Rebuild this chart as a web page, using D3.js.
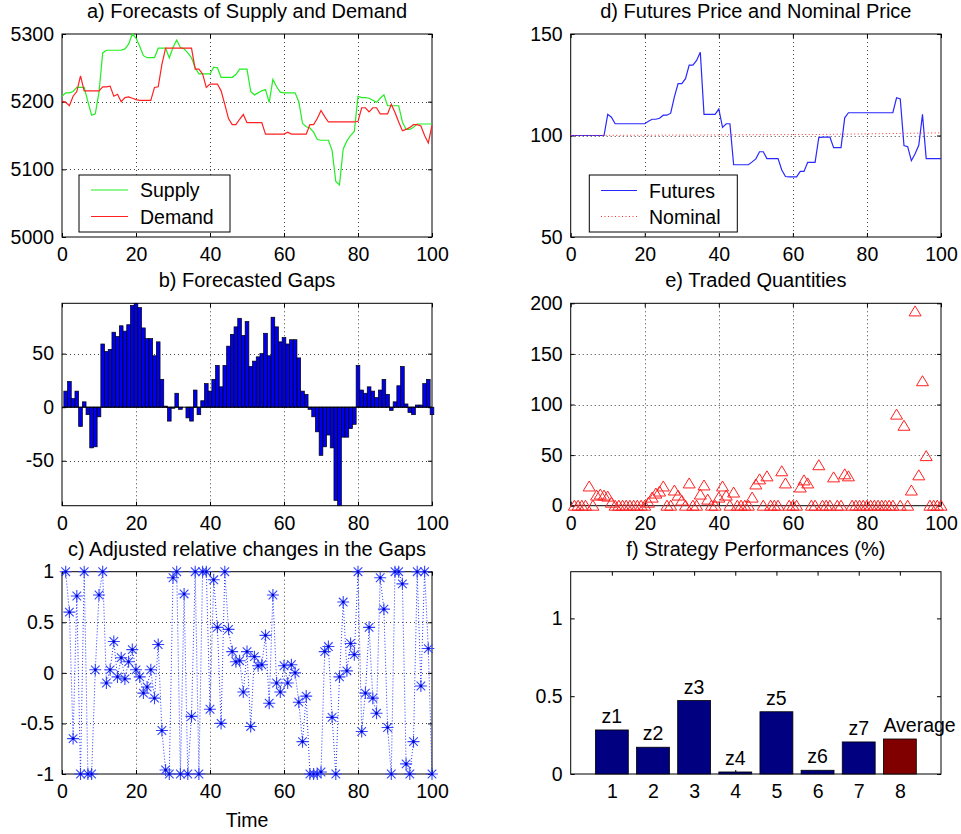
<!DOCTYPE html>
<html>
<head>
<meta charset="utf-8">
<script src="https://cdn.jsdelivr.net/npm/d3@7"></script>
<style>
  body { margin: 0; background: #fff; }
  text { font-family: "Liberation Sans", Arial, Helvetica, sans-serif; }
</style>
</head>
<body>
<svg id="fig" width="961" height="834"></svg>
<script>
// ---- data ----
var supply = [5208,5213,5213,5215,5221,5221,5221,5200,5180,5182,
  5214,5272,5276,5276,5276,5276,5276,5278,5285,5300,
  5294,5282,5268,5265,5265,5265,5279,5279,5279,5265,
  5280,5291,5280,5278,5272,5265,5250,5241,5241,5241,
  5241,5251,5250,5236,5236,5236,5236,5240,5248,5248,
  5248,5215,5210,5213,5216,5218,5199,5233,5222,5214,
  5213,5213,5213,5213,5200,5168,5163,5161,5155,5144,
  5143,5143,5143,5128,5082,5077,5130,5142,5150,5156,
  5208,5206,5206,5205,5202,5199,5205,5210,5194,5194,
  5194,5194,5170,5159,5159,5162,5167,5167,5167,5167,
  5167];
var demand = [5201,5199,5194,5208,5215,5238,5216,5216,5216,5216,
  5216,5222,5222,5223,5208,5211,5200,5206,5207,5205,
  5203,5202,5202,5202,5202,5221,5222,5255,5279,5279,
  5279,5279,5279,5279,5279,5279,5248,5248,5241,5221,
  5226,5226,5226,5216,5196,5175,5166,5166,5174,5181,
  5169,5169,5169,5169,5169,5152,5152,5152,5152,5152,
  5152,5155,5152,5152,5152,5152,5152,5166,5166,5175,
  5187,5178,5170,5170,5170,5170,5170,5170,5170,5170,
  5171,5191,5191,5185,5191,5191,5182,5182,5182,5196,
  5184,5170,5157,5159,5162,5166,5166,5164,5150,5139,
  5165];
var gaps = [15,24,8,15,-18,5,-7,-38,-37,-9,
  59,52,54,70,66,76,71,77,95,97,
  93,74,64,64,48,61,26,1,-13,-1,
  13,-2,0,-10,-13,16,-7,6,22,15,
  26,39,19,39,57,68,75,83,67,80,
  38,43,47,50,69,48,84,75,61,65,
  59,63,63,46,15,12,-2,-9,-23,-45,
  -37,-26,-38,-87,-92,-28,-28,-20,-16,39,
  16,13,19,15,9,16,26,12,-3,5,
  20,38,3,-5,-7,2,2,22,26,-7];
var changes = [1,0.60,-0.65,0.76,-1,1,-1,-1,0.03,0.77,
  1,-0.1,0.03,0.31,-0.04,0.15,-0.06,0.11,0.23,0.03,
  -0.04,-0.2,-0.14,0.03,-0.25,0.28,-0.57,-0.96,-1,0.94,
  1,-1,0.78,-1,-0.43,1,-1,1,1,-0.36,
  0.92,0.45,-0.5,1,0.43,0.21,0.11,0.12,-0.19,0.21,
  -0.53,0.16,0.07,0.08,0.37,-0.3,0.77,-0.1,-0.19,0.07,
  -0.1,0.08,0,-0.29,-0.68,-0.23,-1,-1,-1,-0.98,
  0.21,0.26,-0.44,-1,-0.04,0.70,0.02,0.29,0.18,1,
  -0.58,-0.2,0.45,-0.25,-0.4,0.94,0.63,-0.54,-1,1,
  1,0.88,-0.9,-1,-0.68,1,-0.13,1,0.24,-1];
var futures = [100,100,100,100,100,100,100,100,100,100,
  110.4,109,105.8,105.8,105.8,105.8,105.8,105.8,105.8,105.8,
  105.8,107,108,108,108.5,110,110,111,119,125.6,
  125.6,128,134.7,134.7,137,141,110.4,110.4,110.4,110.4,
  113,104,105.8,105.8,85.6,85.6,85.6,85.6,85.6,87,
  88.5,92,92,88.6,88.6,88.6,88.6,83,79.8,79.6,
  79.6,79.6,82.3,82.3,86.8,86.8,86.8,99,99.2,99.2,
  99.2,94,94,94,108.7,111.2,111.2,111.2,111.2,111.2,
  111.2,111.2,111.2,111.2,111.2,111.2,111.2,111.2,118.6,118,
  95,94.5,87.6,91,95.2,110.4,88.6,88.6,88.6,88.6,
  88.6];
var nominalT = [0, 67, 100];
var nominalV = [100, 100.5, 101.3];
var traded = [0,0,0,0,19,0,10,11,10,9,
  3,0,0,0,0,0,0,0,0,0,
  3,8,12,14,19,0,0,15,10,5,
  0,22,0,0,11,20,6,0,0,8,
  19,10,0,13,0,0,0,0,8,21,
  26,0,29,0,0,0,34,22,0,0,
  0,18,25,22,0,0,40,0,0,0,
  28,0,0,31,29,0,0,0,0,0,
  0,0,0,0,0,0,0,90,0,79,
  0,15,192,30,123,49,0,0,0,0];
var strategies = ["z1","z2","z3","z4","z5","z6","z7","Average"];
var performance = [0.283,0.172,0.472,0.013,0.40,0.024,0.206,0.225];

var timeTicks = [0,20,40,60,80,100];

var svg = d3.select("#fig");
var FS = 19.5;

function panel(o) {
  var g = svg.append("g");
  var x = d3.scaleLinear().domain(o.xd).range([o.x0, o.x1]);
  var y = d3.scaleLinear().domain(o.yd).range([o.y1, o.y0]);

  if (o.grid) {
    g.selectAll(".gx").data(o.xt.filter(function(d){ return d > o.xd[0] && d < o.xd[1]; }))
      .enter().append("line")
      .attr("x1", function(d){ return Math.round(x(d)) + 0.5; })
      .attr("x2", function(d){ return Math.round(x(d)) + 0.5; })
      .attr("y1", o.y0).attr("y2", o.y1)
      .attr("stroke", "#444").attr("stroke-dasharray", "1,3");
    g.selectAll(".gy").data(o.yt.filter(function(d){ return d > o.yd[0] && d < o.yd[1]; }))
      .enter().append("line")
      .attr("y1", function(d){ return Math.round(y(d)) + 0.5; })
      .attr("y2", function(d){ return Math.round(y(d)) + 0.5; })
      .attr("x1", o.x0).attr("x2", o.x1)
      .attr("stroke", "#444").attr("stroke-dasharray", "1,3");
  }

  var fmt = function(d){ return String(d); };
  var axB = g.append("g").attr("transform", "translate(0," + o.y1 + ")")
    .call(d3.axisBottom(x).tickValues(o.xt).tickSizeInner(-4).tickSizeOuter(0).tickPadding(10).tickFormat(fmt));
  var axL = g.append("g").attr("transform", "translate(" + o.x0 + ",0)")
    .call(d3.axisLeft(y).tickValues(o.yt).tickSizeInner(-4).tickSizeOuter(0).tickPadding(8).tickFormat(fmt));
  var axT = g.append("g").attr("transform", "translate(0," + o.y0 + ")")
    .call(d3.axisTop(x).tickValues(o.xt).tickSizeInner(-4).tickSizeOuter(0).tickFormat(""));
  var axR = g.append("g").attr("transform", "translate(" + o.x1 + ",0)")
    .call(d3.axisRight(y).tickValues(o.yt).tickSizeInner(-4).tickSizeOuter(0).tickFormat(""));
  [axB, axL, axT, axR].forEach(function(a){
    a.select(".domain").remove();
    a.attr("font-size", FS).attr("font-family", null);
    a.selectAll("text").attr("fill", "#000");
    a.selectAll("line").attr("stroke", "#000");
  });

  g.append("rect").attr("x", o.x0).attr("y", o.y0)
    .attr("width", o.x1 - o.x0).attr("height", o.y1 - o.y0)
    .attr("fill", "none").attr("stroke", "#000").attr("stroke-width", 1);

  g.append("text").attr("x", (o.x0 + o.x1) / 2).attr("y", o.y0 - 16)
    .attr("text-anchor", "middle").attr("font-size", FS + 0.5).text(o.title);

  return { g: g, x: x, y: y };
}

var L = [62, 432], R = [570.7, 941];
var rows = [[34, 237], [303.3, 505.7], [571.7, 774]];

// a) forecasts
var pa = panel({ x0: L[0], x1: L[1], y0: rows[0][0], y1: rows[0][1],
  xd: [0, 100], yd: [5000, 5300], xt: timeTicks, yt: [5000, 5100, 5200, 5300],
  grid: true, title: "a) Forecasts of Supply and Demand" });
var lineA = d3.line().x(function(d, i){ return pa.x(i); }).y(function(d){ return pa.y(d); });
pa.g.append("path").datum(supply).attr("d", lineA).attr("fill", "none").attr("stroke", "#22ee22").attr("stroke-width", 1.2);
pa.g.append("path").datum(demand).attr("d", lineA).attr("fill", "none").attr("stroke", "#ff2020").attr("stroke-width", 1.2);
var legA = pa.g.append("g");
legA.append("rect").attr("x", 79).attr("y", 175).attr("width", 151).attr("height", 57)
  .attr("fill", "#fff").attr("stroke", "#000");
[["Supply", "#22ee22", 190], ["Demand", "#ff2020", 216.5]].forEach(function(e){
  legA.append("line").attr("x1", 91).attr("x2", 128).attr("y1", e[2]).attr("y2", e[2])
    .attr("stroke", e[1]).attr("stroke-width", 1.2);
  legA.append("text").attr("x", 140).attr("y", e[2] + 7).attr("font-size", FS).text(e[0]);
});

// b) gaps
var pb = panel({ x0: L[0], x1: L[1], y0: rows[1][0], y1: rows[1][1],
  xd: [0, 100], yd: [-92, 97], xt: timeTicks, yt: [-50, 0, 50],
  grid: true, title: "b) Forecasted Gaps" });
pb.g.selectAll(".bar").data(gaps).enter().append("rect")
  .attr("x", function(d, i){ return pb.x(i + 0.5); })
  .attr("width", pb.x(1) - pb.x(0))
  .attr("y", function(d){ return pb.y(Math.max(d, 0)); })
  .attr("height", function(d){ return Math.abs(pb.y(d) - pb.y(0)); })
  .attr("fill", "#0000ee").attr("stroke", "#000").attr("stroke-width", 0.7);
pb.g.append("line").attr("x1", pb.x(0)).attr("x2", pb.x(100))
  .attr("y1", pb.y(0)).attr("y2", pb.y(0)).attr("stroke", "#000");

// c) adjusted relative changes
var pc = panel({ x0: L[0], x1: L[1], y0: rows[2][0], y1: rows[2][1],
  xd: [0, 100], yd: [-1, 1], xt: timeTicks, yt: [-1, -0.5, 0, 0.5, 1],
  grid: true, title: "c) Adjusted relative changes in the Gaps" });
var lineC = d3.line().x(function(d, i){ return pc.x(i + 1); }).y(function(d){ return pc.y(d); });
pc.g.append("path").datum(changes).attr("d", lineC).attr("fill", "none")
  .attr("stroke", "#2233ff").attr("stroke-width", 1).attr("stroke-dasharray", "1,2");
var star = "M-6,0H6M0,-6V6M-4.3,-4.3L4.3,4.3M-4.3,4.3L4.3,-4.3";
pc.g.selectAll(".star").data(changes).enter().append("path")
  .attr("transform", function(d, i){ return "translate(" + pc.x(i + 1) + "," + pc.y(d) + ")"; })
  .attr("d", star).attr("fill", "none").attr("stroke", "#3344ff").attr("stroke-width", 1.1);
pc.g.selectAll(".dot").data(changes).enter().append("circle")
  .attr("cx", function(d, i){ return pc.x(i + 1); }).attr("cy", function(d){ return pc.y(d); })
  .attr("r", 1.3).attr("fill", "#0000cc");
pc.g.append("text").attr("x", (L[0] + L[1]) / 2).attr("y", 827)
  .attr("text-anchor", "middle").attr("font-size", FS).text("Time");

// d) futures price
var pd = panel({ x0: R[0], x1: R[1], y0: rows[0][0], y1: rows[0][1],
  xd: [0, 100], yd: [50, 150], xt: timeTicks, yt: [50, 100, 150],
  grid: true, title: "d) Futures Price and Nominal Price" });
pd.g.append("path").datum(futures)
  .attr("d", d3.line().x(function(d, i){ return pd.x(i); }).y(function(d){ return pd.y(d); }))
  .attr("fill", "none").attr("stroke", "#2828ff").attr("stroke-width", 1.2);
pd.g.append("path").datum(nominalV)
  .attr("d", d3.line().x(function(d, i){ return pd.x(nominalT[i]); }).y(function(d){ return pd.y(d); }))
  .attr("fill", "none").attr("stroke", "#ff3030").attr("stroke-width", 1).attr("stroke-dasharray", "1,2.5");
var legD = pd.g.append("g");
legD.append("rect").attr("x", 589.3).attr("y", 175).attr("width", 148).attr("height", 57)
  .attr("fill", "#fff").attr("stroke", "#000");
legD.append("line").attr("x1", 601).attr("x2", 637).attr("y1", 190.5).attr("y2", 190.5)
  .attr("stroke", "#2828ff").attr("stroke-width", 1.2);
legD.append("line").attr("x1", 601).attr("x2", 637).attr("y1", 216.5).attr("y2", 216.5)
  .attr("stroke", "#ff3030").attr("stroke-dasharray", "1,2.5");
legD.append("text").attr("x", 649).attr("y", 197.5).attr("font-size", FS).text("Futures");
legD.append("text").attr("x", 649).attr("y", 223.5).attr("font-size", FS).text("Nominal");

// e) traded quantities
var pe = panel({ x0: R[0], x1: R[1], y0: rows[1][0], y1: rows[1][1],
  xd: [0, 100], yd: [0, 200], xt: timeTicks, yt: [0, 50, 100, 150, 200],
  grid: true, title: "e) Traded Quantities" });
pe.g.selectAll(".tri").data(traded).enter().append("path")
  .attr("transform", function(d, i){ return "translate(" + pe.x(i + 1) + "," + pe.y(d) + ")"; })
  .attr("d", "M0,-5.5L6,4.5L-6,4.5Z").attr("fill", "none").attr("stroke", "#ff2020").attr("stroke-width", 1);

// f) strategy performances
var pf = panel({ x0: R[0], x1: R[1], y0: rows[2][0], y1: rows[2][1],
  xd: [0, 9], yd: [0, 1.3], xt: [1, 2, 3, 4, 5, 6, 7, 8], yt: [0, 0.5, 1],
  grid: false, title: "f) Strategy Performances (%)" });
var bw = (pf.x(1) - pf.x(0)) * 0.8;
pf.g.selectAll(".sb").data(performance).enter().append("rect")
  .attr("x", function(d, i){ return pf.x(i + 1) - bw / 2; })
  .attr("width", bw)
  .attr("y", function(d){ return pf.y(d); })
  .attr("height", function(d){ return pf.y(0) - pf.y(d); })
  .attr("fill", function(d, i){ return i === 7 ? "#800000" : "#000080"; })
  .attr("stroke", "#000").attr("stroke-width", 0.8);
pf.g.selectAll(".sl").data(performance).enter().append("text")
  .attr("x", function(d, i){ return i === 7 ? pf.x(i + 1) - bw / 2 : pf.x(i + 1); })
  .attr("y", function(d){ return pf.y(d) - 7; })
  .attr("text-anchor", function(d, i){ return i === 7 ? "start" : "middle"; })
  .attr("font-size", FS)
  .text(function(d, i){ return strategies[i]; });
</script>
</body>
</html>
